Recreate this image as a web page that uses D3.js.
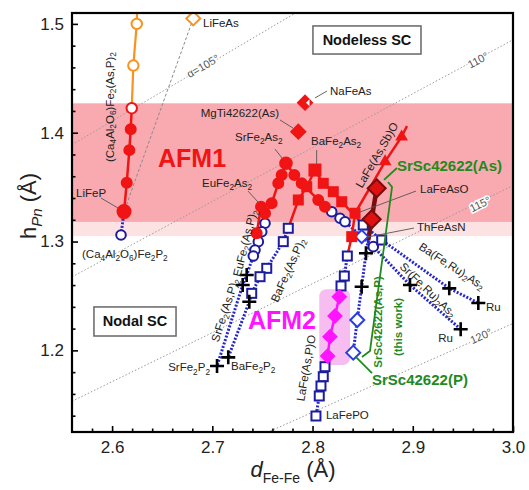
<!DOCTYPE html>
<html>
<head>
<meta charset="utf-8">
<script src="https://cdn.jsdelivr.net/npm/d3@7"></script>
<style>
  body { margin: 0; background: #fff; }
  text { font-family: "Liberation Sans", Arial, sans-serif; }
</style>
</head>
<body>
<svg id="chart" width="529" height="490"></svg>
<script>
// values: [d_Fe-Fe, h_Pn] in Å
const CA_HIGH = [[2.6246, 1.5000], [2.6212, 1.4617]];
const CA_TOP = [2.6256, 1.53];
const CA_AFM = [[2.6196, 1.4225], [2.6186, 1.4032], [2.6172, 1.3840], [2.6146, 1.3540], [2.6119, 1.3275]];
const CA_P = [[2.6089, 1.3060]];
const LIFEAS = [2.6810, 1.5050];
const NAFEAS = [2.7925, 1.4276];
const MGTI = [2.7858, 1.4010];

const SR_AFM = [[2.7735, 1.3719], [2.7692, 1.3611], [2.7658, 1.3535], [2.7592, 1.3351], [2.7526, 1.3260]];
const SR_PM = [[2.7526, 1.3168], [2.7493, 1.3090]];
const SR_X = [[2.7343, 1.2693], [2.7303, 1.2601], [2.7047, 1.1856]];

const EU_AFM = [[2.7486, 1.3320], [2.7443, 1.3076]];
const EU_PM = [[2.7459, 1.2999], [2.7426, 1.2922], [2.7409, 1.2867]];

const BA_AFM = [[2.8024, 1.3657], [2.7942, 1.3504], [2.7858, 1.3382]];
const BA_PM = [[2.7758, 1.3122], [2.7708, 1.2999], [2.7543, 1.2754], [2.7476, 1.2677], [2.7393, 1.2524]];
const BA_X = [[2.7369, 1.2447], [2.7159, 1.1936]];

const SRRU_AFM = [[2.7735, 1.3719], [2.7818, 1.3611], [2.7892, 1.3535], [2.8057, 1.3382], [2.8124, 1.3320]];
const SRRU_PM = [[2.8191, 1.3274], [2.8274, 1.3214], [2.8324, 1.3182], [2.8606, 1.2953]];
const SRRU_X = [[2.8972, 1.2601], [2.9478, 1.2194]];

const BARU_AFM = [[2.8024, 1.3657], [2.8107, 1.3535], [2.8207, 1.3458], [2.8291, 1.3366]];
const BARU_PM = [[2.8506, 1.3152], [2.8690, 1.3014]];
const BARU_X = [[2.9364, 1.2570], [2.9654, 1.2435]];

const LA_AFM = [[2.8424, 1.3260], [2.8391, 1.3045]];
const LA_PM1 = [[2.8347, 1.2867], [2.8317, 1.2683], [2.8284, 1.2592]];
const LA_AFM2 = [[2.8267, 1.2493], [2.8224, 1.2316], [2.8174, 1.2126], [2.8151, 1.1948]];
const LA_PM2 = [[2.8124, 1.1850], [2.8107, 1.1758], [2.8084, 1.1673], [2.8067, 1.1581], [2.8034, 1.1397]];
const LASB = [[2.8724, 1.3734], [2.8889, 1.3963]];
const LASB_END = [2.8942, 1.4062];

const SC_AFM = [[2.8640, 1.3489], [2.8590, 1.3205]];
const SC_END = [2.8556, 1.3014];
const SC_X = [[2.8533, 1.2892], [2.8490, 1.2585]];
const SC_PM = [[2.8446, 1.2279], [2.8406, 1.1979]];
const THFEASN = [2.8490, 1.3045];

const ALPHAS = [105, 110, 115, 120];
const X_TICKS = [2.6, 2.7, 2.8, 2.9, 3.0];
const Y_TICKS = [1.2, 1.3, 1.4, 1.5];
const AFM1_BAND = [1.318, 1.427];
const FADE_BAND = [1.305, 1.318];
const AFM2_BOX = [[2.8067, 1.1866], [2.8374, 1.2561]];

// text, d, h, anchor, rotation
const LABELS = [
  ['LiFeAs', 2.6907, 1.4971, 'start', 0],
  ['MgTi42622(As)', 2.7665, 1.4144, 'end', 0],
  ['NaFeAs', 2.8174, 1.4347, 'start', 0],
  ['SrFe_2As_2', 2.7226, 1.3924, 'start', 0],
  ['BaFe_2As_2', 2.7985, 1.3887, 'start', 0],
  ['EuFe_2As_2', 2.6897, 1.3501, 'start', 0],
  ['LaFeAsO', 2.9072, 1.3446, 'start', 0],
  ['ThFeAsN', 2.9042, 1.3097, 'start', 0],
  ['LiFeP', 2.5640, 1.3409, 'start', 0],
  ['(Ca_4Al_2O_6)Fe_2P_2', 2.5700, 1.2849, 'start', 0],
  ['LaFePO', 2.8134, 1.1369, 'start', 0],
  ['SrFe_2P_2', 2.6977, 1.1810, 'end', 0],
  ['BaFe_2P_2', 2.7186, 1.1820, 'start', 0],
  ['Ru', 2.9731, 1.2362, 'start', 0],
  ['Ru', 2.9401, 1.2077, 'end', 0],
  ['(Ca_4Al_2O_6)Fe_2(As,P)_2', 2.5979, 1.4236, 'middle', -90],
  ['EuFe_2(As,P)_2', 2.7326, 1.2987, 'middle', -76],
  ['SrFe_2(As,P)_2', 2.7126, 1.2371, 'middle', -72],
  ['BaFe_2(As,P)_2', 2.7755, 1.2739, 'middle', -66],
  ['LaFe(As,P)O', 2.7935, 1.1838, 'middle', -80],
  ['LaFe(As,Sb)O', 2.8643, 1.3795, 'middle', -60],
  ['Ba(Fe,Ru)_2As_2', 2.9391, 1.2775, 'middle', 33],
  ['Sr(Fe,Ru)_2As_2', 2.9152, 1.2555, 'middle', 44]
];
const ANGLE_LABELS = [
  ['α=105°', 2.6907, 1.4613, -30],
  ['110°', 2.9651, 1.4668, -28],
  ['115°', 2.9671, 1.3345, -26],
  ['120°', 2.9681, 1.2132, -24]
];
const LEADERS = [
  [[2.8024, 1.4319], [2.8144, 1.4383]],
  [[2.7675, 1.4117], [2.7805, 1.4043]],
  [[2.7625, 1.3850], [2.7695, 1.3768]],
  [[2.8041, 1.3841], [2.8041, 1.3713]],
  [[2.7356, 1.3464], [2.7456, 1.3363]],
  [[2.9032, 1.3464], [2.8473, 1.3271]],
  [[2.9012, 1.3124], [2.8553, 1.3042]],
  [[2.5889, 1.3400], [2.6059, 1.3308]]
];
const GREEN_LEADERS = [
  [[2.8842, 1.3676], [2.8713, 1.3566]],
  [[2.8593, 1.1792], [2.8434, 1.1939]],
  [[2.8753, 1.3547], [2.8793, 1.3501], [2.8573, 1.1994], [2.8493, 1.1939]]
];

const RED = '#f01414', BLUE = '#1c1c9e', DOT = '#2626cc', ORANGE = '#f7931e',
      GREEN = '#1f8a1f', MAGENTA = '#ff14ff', DARKRED = '#7a0c0c';

const svg = d3.select('#chart');
const x = d3.scaleLinear().domain([2.56, 3.0]).range([72, 513]);
const y = d3.scaleLinear().domain([1.125, 1.51]).range([432, 13]);
const line = d3.line().x(d => x(d[0])).y(d => y(d[1]));

svg.append('defs').append('clipPath').attr('id', 'plot')
  .append('rect').attr('x', 72).attr('y', 13).attr('width', 441).attr('height', 419);

const plot = svg.append('g').attr('clip-path', 'url(#plot)');

// bands
plot.append('rect').attr('x', 72).attr('width', 441)
  .attr('y', y(AFM1_BAND[1])).attr('height', y(AFM1_BAND[0]) - y(AFM1_BAND[1]))
  .attr('fill', '#f8aab0');
plot.append('rect').attr('x', 72).attr('width', 441)
  .attr('y', y(FADE_BAND[1])).attr('height', y(FADE_BAND[0]) - y(FADE_BAND[1]))
  .attr('fill', '#fde2e3');
plot.append('rect')
  .attr('x', x(AFM2_BOX[0][0])).attr('y', y(AFM2_BOX[1][1]))
  .attr('width', x(AFM2_BOX[1][0]) - x(AFM2_BOX[0][0]))
  .attr('height', y(AFM2_BOX[0][1]) - y(AFM2_BOX[1][1]))
  .attr('rx', 7).attr('fill', '#f7bdf0');

// constant Pn-Fe-Pn angle lines: h = d / (sqrt2 tan(alpha/2))
ALPHAS.forEach(a => {
  const k = 1 / (Math.SQRT2 * Math.tan(a / 2 * Math.PI / 180));
  plot.append('path').attr('d', line([[2.56, 2.56 * k], [3.0, 3.0 * k]]))
    .attr('fill', 'none').attr('stroke', '#9a9a9a').attr('stroke-width', 1)
    .attr('stroke-dasharray', '1.5,2');
});
plot.append('path').attr('d', line([LIFEAS, CA_AFM[CA_AFM.length - 1]]))
  .attr('fill', 'none').attr('stroke', '#8a8a8a').attr('stroke-width', 1)
  .attr('stroke-dasharray', '3,2');

function draw(pts, color, width, dash) {
  plot.append('path').attr('d', line(pts)).attr('fill', 'none')
    .attr('stroke', color).attr('stroke-width', width)
    .attr('stroke-dasharray', dash || null);
}
const last = a => a[a.length - 1];

// connecting lines
draw([CA_TOP, ...CA_HIGH, CA_AFM[0]], ORANGE, 2.2);
draw(CA_AFM, RED, 2.5);
draw([last(CA_AFM), ...CA_P], DOT, 3, '2,1.6');
draw([...SR_AFM, SR_PM[0]], RED, 2.5);
draw([...SR_PM, ...SR_X], DOT, 3, '2,1.6');
draw(EU_AFM, RED, 2.5);
draw([last(EU_AFM), ...EU_PM], DOT, 3, '2,1.6');
draw([...BA_AFM, BA_PM[0]], RED, 2.5);
draw([...BA_PM, ...BA_X], DOT, 3, '2,1.6');
draw([...SRRU_AFM, SRRU_PM[0]], RED, 2.5);
draw([...SRRU_PM, ...SRRU_X], DOT, 3, '2,1.6');
draw([...BARU_AFM, BARU_PM[0]], RED, 2.5);
draw([...BARU_PM, ...BARU_X], DOT, 3, '2,1.6');
draw([...LA_AFM, LA_PM1[0]], RED, 2.5);
draw([...LA_PM1, LA_AFM2[0]], DOT, 3, '2,1.6');
draw(LA_AFM2, MAGENTA, 2.5);
draw([last(LA_AFM2), ...LA_PM2], DOT, 3, '2,1.6');
draw([LA_AFM[0], ...LASB, LASB_END], RED, 2.5);
draw([SC_END, ...SC_X, ...SC_PM], DOT, 3, '2,1.6');
draw([...SC_AFM, SC_END], DARKRED, 4.5);

// markers
function circles(pts, fill, stroke, r) {
  plot.selectAll(null).data(pts).join('circle')
    .attr('cx', d => x(d[0])).attr('cy', d => y(d[1])).attr('r', r)
    .attr('fill', fill).attr('stroke', stroke).attr('stroke-width', 2);
}
function squares(pts, fill, stroke, s) {
  plot.selectAll(null).data(pts).join('rect')
    .attr('x', d => x(d[0]) - s / 2).attr('y', d => y(d[1]) - s / 2)
    .attr('width', s).attr('height', s)
    .attr('fill', fill).attr('stroke', stroke).attr('stroke-width', 2);
}
function diamonds(pts, fill, stroke, r, sw) {
  plot.selectAll(null).data(pts).join('path')
    .attr('d', d => {
      const cx = x(d[0]), cy = y(d[1]);
      return `M${cx},${cy - r}L${cx + r},${cy}L${cx},${cy + r}L${cx - r},${cy}Z`;
    })
    .attr('fill', fill).attr('stroke', stroke).attr('stroke-width', sw || 2);
}
function crosses(pts) {
  plot.selectAll(null).data(pts).join('path')
    .attr('d', d => {
      const cx = x(d[0]), cy = y(d[1]);
      return `M${cx - 7},${cy}H${cx + 7}M${cx},${cy - 7}V${cy + 7}`;
    })
    .attr('stroke', '#000').attr('stroke-width', 2.6);
}
function triangles(pts) {
  plot.selectAll(null).data(pts).join('path')
    .attr('d', d => d3.symbol(d3.symbolTriangle, 70)())
    .attr('transform', d => `translate(${x(d[0])},${y(d[1])})`)
    .attr('fill', RED);
}

circles(CA_P, '#fff', BLUE, 4.8);
circles(SR_PM, '#fff', BLUE, 4.8);
circles(EU_PM, '#fff', BLUE, 4.8);
circles(SRRU_PM, '#fff', BLUE, 4.8);
squares(BA_PM, '#fff', BLUE, 9);
squares(BARU_PM, '#fff', BLUE, 9);
squares(LA_PM1, '#fff', BLUE, 9);
squares(LA_PM2, '#fff', BLUE, 9);
diamonds(SC_PM, '#fff', '#2a3ee0', 7);
diamonds([THFEASN], '#fff', '#2a3ee0', 6.5);
crosses([...SR_X, ...BA_X, ...SRRU_X, ...BARU_X, ...SC_X]);

circles(CA_HIGH, '#fff', ORANGE, 5.2);
diamonds([LIFEAS], '#fff', ORANGE, 7);
circles([CA_AFM[0]], '#fff', RED, 5.2);
circles(CA_AFM.slice(1, -1), RED, RED, 5);
circles([last(CA_AFM)], RED, RED, 6.5);
circles([...SR_AFM, ...EU_AFM, ...SRRU_AFM.slice(1)], RED, RED, 5);
circles([SR_AFM[0]], RED, RED, 5.8);
squares([...BA_AFM.slice(1), ...BARU_AFM.slice(1), ...LA_AFM], RED, RED, 9);
squares([BA_AFM[0]], RED, RED, 11);
triangles(LASB);
diamonds([MGTI], RED, RED, 7);
diamonds([NAFEAS], RED, RED, 7);
plot.append('path')
  .attr('d', `M${x(NAFEAS[0]) + 1},${y(NAFEAS[1])}L${x(NAFEAS[0]) + 4.5},${y(NAFEAS[1]) - 3.5}V${y(NAFEAS[1]) + 3.5}Z`)
  .attr('fill', '#fff');
diamonds(SC_AFM, '#e01010', DARKRED, 9, 2);
diamonds(LA_AFM2, MAGENTA, MAGENTA, 6.5);

// leaders and brackets
LEADERS.forEach(l => plot.append('path').attr('d', line(l)).attr('fill', 'none')
  .attr('stroke', '#555').attr('stroke-width', 0.9));
GREEN_LEADERS.forEach(l => plot.append('path').attr('d', line(l)).attr('fill', 'none')
  .attr('stroke', GREEN).attr('stroke-width', 1.8));

// labels with subscripts written as _x or _{xx}
function rich(sel, str, size) {
  const parts = str.split(/(_\{[^}]*\}|_[^{])/).filter(s => s.length);
  let shift = 0;
  parts.forEach(p => {
    const sub = p[0] === '_';
    const t = sub ? (p[1] === '{' ? p.slice(2, -1) : p.slice(1)) : p;
    const want = sub ? size * 0.3 : 0;
    sel.append('tspan').attr('dy', want - shift)
      .attr('font-size', sub ? size * 0.72 : null).text(t);
    shift = want;
  });
}
function label(str, d, h, anchor, rot, size, attrs) {
  const t = svg.append('text')
    .attr('transform', `translate(${x(d)},${y(h)}) rotate(${rot})`)
    .attr('text-anchor', anchor).attr('font-size', size).attr('fill', '#222');
  if (rot !== 0) t.attr('dominant-baseline', 'central');
  Object.entries(attrs || {}).forEach(([k, v]) => t.attr(k, v));
  rich(t, str, size);
  return t;
}
LABELS.forEach(l => label(l[0], l[1], l[2], l[3], l[4], 11.5));
ANGLE_LABELS.forEach(l => label(l[0], l[1], l[2], 'middle', l[3], 11,
  { fill: '#555', stroke: '#fff', 'stroke-width': 3, 'paint-order': 'stroke' }));

label('AFM1', 2.6458, 1.3685, 'start', 0, 25, { fill: RED, 'font-weight': 'bold' });
label('AFM2', 2.8034, 1.2196, 'end', 0, 25, { fill: MAGENTA, 'font-weight': 'bold' });
label('SrSc42622(As)', 2.8842, 1.3648, 'start', 0, 15, { fill: GREEN, 'font-weight': 'bold' });
label('SrSc42622(P)', 2.8593, 1.1682, 'start', 0, 15, { fill: GREEN, 'font-weight': 'bold' });
label('SrSc42622(As,P)', 2.8653, 1.2261, 'middle', -90, 11.5, { fill: GREEN, 'font-weight': 'bold' });
label('(this work)', 2.8853, 1.2215, 'middle', -90, 11.5, { fill: GREEN, 'font-weight': 'bold' });

// boxed region notes
[['Nodeless SC', 2.8004, 2.9082, 1.4981, 1.4723], ['Nodal SC', 2.5819, 2.6638, 1.2399, 1.2132]]
  .forEach(b => {
    svg.append('rect').attr('x', x(b[1])).attr('y', y(b[3]))
      .attr('width', x(b[2]) - x(b[1])).attr('height', y(b[4]) - y(b[3]))
      .attr('fill', '#fff').attr('stroke', '#666').attr('stroke-width', 1.5);
    svg.append('text').attr('x', (x(b[1]) + x(b[2])) / 2).attr('y', (y(b[3]) + y(b[4])) / 2)
      .attr('text-anchor', 'middle').attr('dominant-baseline', 'central')
      .attr('font-size', 14.5).attr('font-weight', 'bold').attr('fill', '#111').text(b[0]);
  });

// axes
const minorX = d3.range(2.58, 3.0, 0.02).filter(v => Math.abs(v * 10 - Math.round(v * 10)) > 1e-6);
const minorY = d3.range(1.14, 1.51, 0.02).filter(v => Math.abs(v * 10 - Math.round(v * 10)) > 1e-6);
const styleAxis = g => {
  g.select('.domain').remove();
  g.selectAll('line').attr('stroke', '#000').attr('stroke-width', 1.6);
  g.selectAll('text').attr('font-size', 17).attr('fill', '#222')
    .attr('font-family', '"Liberation Sans", Arial, sans-serif');
};
svg.append('g').attr('transform', 'translate(0,432)')
  .call(d3.axisBottom(x).tickValues(X_TICKS).tickFormat(d3.format('.1f')).tickSize(-6).tickPadding(9))
  .call(styleAxis);
svg.append('g').attr('transform', 'translate(0,432)')
  .call(d3.axisBottom(x).tickValues(minorX).tickFormat('').tickSize(-3.5))
  .call(styleAxis);
svg.append('g').attr('transform', 'translate(72,0)')
  .call(d3.axisLeft(y).tickValues(Y_TICKS).tickFormat(d3.format('.1f')).tickSize(-6).tickPadding(8))
  .call(styleAxis);
svg.append('g').attr('transform', 'translate(72,0)')
  .call(d3.axisLeft(y).tickValues(minorY).tickFormat('').tickSize(-3.5))
  .call(styleAxis);

svg.append('rect').attr('x', 72).attr('y', 13).attr('width', 441).attr('height', 419)
  .attr('fill', 'none').attr('stroke', '#000').attr('stroke-width', 2.2);

// axis titles
const yt = svg.append('text').attr('transform', 'translate(36,206) rotate(-90)')
  .attr('text-anchor', 'middle').attr('font-size', 22).attr('fill', '#222');
yt.append('tspan').text('h');
yt.append('tspan').attr('font-size', 15).attr('font-style', 'italic').attr('dy', 6).text('Pn');
yt.append('tspan').attr('dy', -6).text(' (Å)');

const xt = svg.append('text').attr('x', 293).attr('y', 477)
  .attr('text-anchor', 'middle').attr('font-size', 22).attr('fill', '#222');
xt.append('tspan').attr('font-style', 'italic').text('d');
xt.append('tspan').attr('font-size', 14).attr('dy', 6).text('Fe-Fe');
xt.append('tspan').attr('dy', -6).text(' (Å)');
</script>
</body>
</html>
